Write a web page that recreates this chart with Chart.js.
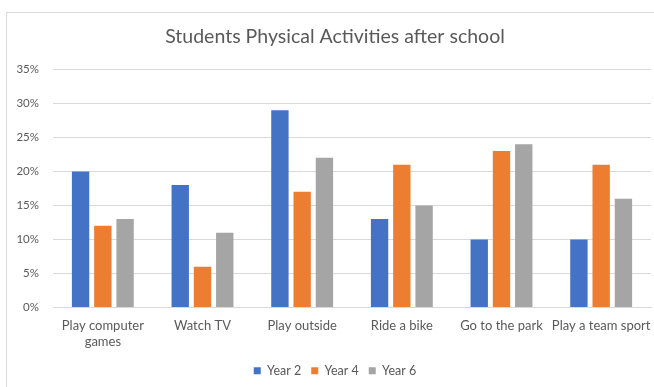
<!DOCTYPE html>
<html>
<head>
<meta charset="utf-8">
<script src="https://cdn.jsdelivr.net/npm/chart.js@4/dist/chart.umd.min.js"></script>
<style>
  html, body { margin: 0; padding: 0; background: #ffffff; overflow: hidden; }
  #wrap { position: relative; width: 654px; height: 387px; overflow: hidden; }
  #frame { position: absolute; left: 6px; top: 12px; width: 660px; height: 400px;
           border: 1px solid #d9d9d9; box-sizing: border-box; }
  canvas { position: absolute; left: 0; top: 0; }
</style>
</head>
<body>
<div id="wrap">
  <div id="frame"></div>
  <canvas id="chart" width="670" height="387"></canvas>
</div>
<script>
// Share of students doing each activity after school, by year group (%)
const categories = [
  ["Play computer", "games"],
  "Watch TV",
  "Play outside",
  "Ride a bike",
  "Go to the park",
  "Play a team sport"
];
const year2 = [20, 18, 29, 13, 10, 10];
const year4 = [12, 6, 17, 21, 23, 21];
const year6 = [13, 11, 22, 15, 24, 16];
const seriesNames = ["Year 2", "Year 4", "Year 6"];
const seriesColors = ["#4472C4", "#ED7D31", "#A5A5A5"];

const FONT = "Lato, 'Liberation Sans', sans-serif";
const TEXT = "#595959";

const datasets = [year2, year4, year6].map((vals, i) => ({
  label: seriesNames[i],
  data: vals,
  backgroundColor: seriesColors[i],
  borderWidth: 0,
  categoryPercentage: 0.67,
  barPercentage: 0.78
}));

new Chart(document.getElementById("chart"), {
  type: "bar",
  data: { labels: categories, datasets },
  options: {
    responsive: false,
    animation: false,
    layout: { padding: { left: 0, right: 0, top: 0, bottom: 0 } },
    plugins: {
      title: {
        display: true,
        text: "Students Physical Activities after school",
        color: TEXT,
        font: { family: FONT, size: 19.5, weight: "normal" },
        padding: { top: 25, bottom: 21 }
      },
      legend: {
        position: "bottom",
        labels: {
          color: TEXT,
          font: { family: FONT, size: 12.5 },
          boxWidth: 7,
          boxHeight: 7,
          padding: 10
        }
      },
      tooltip: { enabled: false }
    },
    scales: {
      x: {
        grid: { display: false },
        border: { display: true, color: "#d9d9d9" },
        ticks: {
          color: TEXT,
          font: { family: FONT, size: 13 },
          padding: 3,
          maxRotation: 0,
          autoSkip: false
        },
        afterFit: (s) => { s.height = 47; }
      },
      y: {
        min: 0,
        max: 35,
        grid: { color: "#d9d9d9", drawTicks: false },
        border: { display: false },
        ticks: {
          stepSize: 5,
          color: TEXT,
          font: { family: FONT, size: 11.5 },
          padding: 14,
          callback: (v) => v + "%"
        },
        afterFit: (s) => { s.width = 53; }
      },
      // empty margin strip on the right of the plot
      yRight: {
        type: "linear",
        position: "right",
        grid: { display: false },
        border: { display: false },
        ticks: { display: false },
        afterFit: (s) => { s.width = 19; }
      }
    }
  }
});
</script>
</body>
</html>
